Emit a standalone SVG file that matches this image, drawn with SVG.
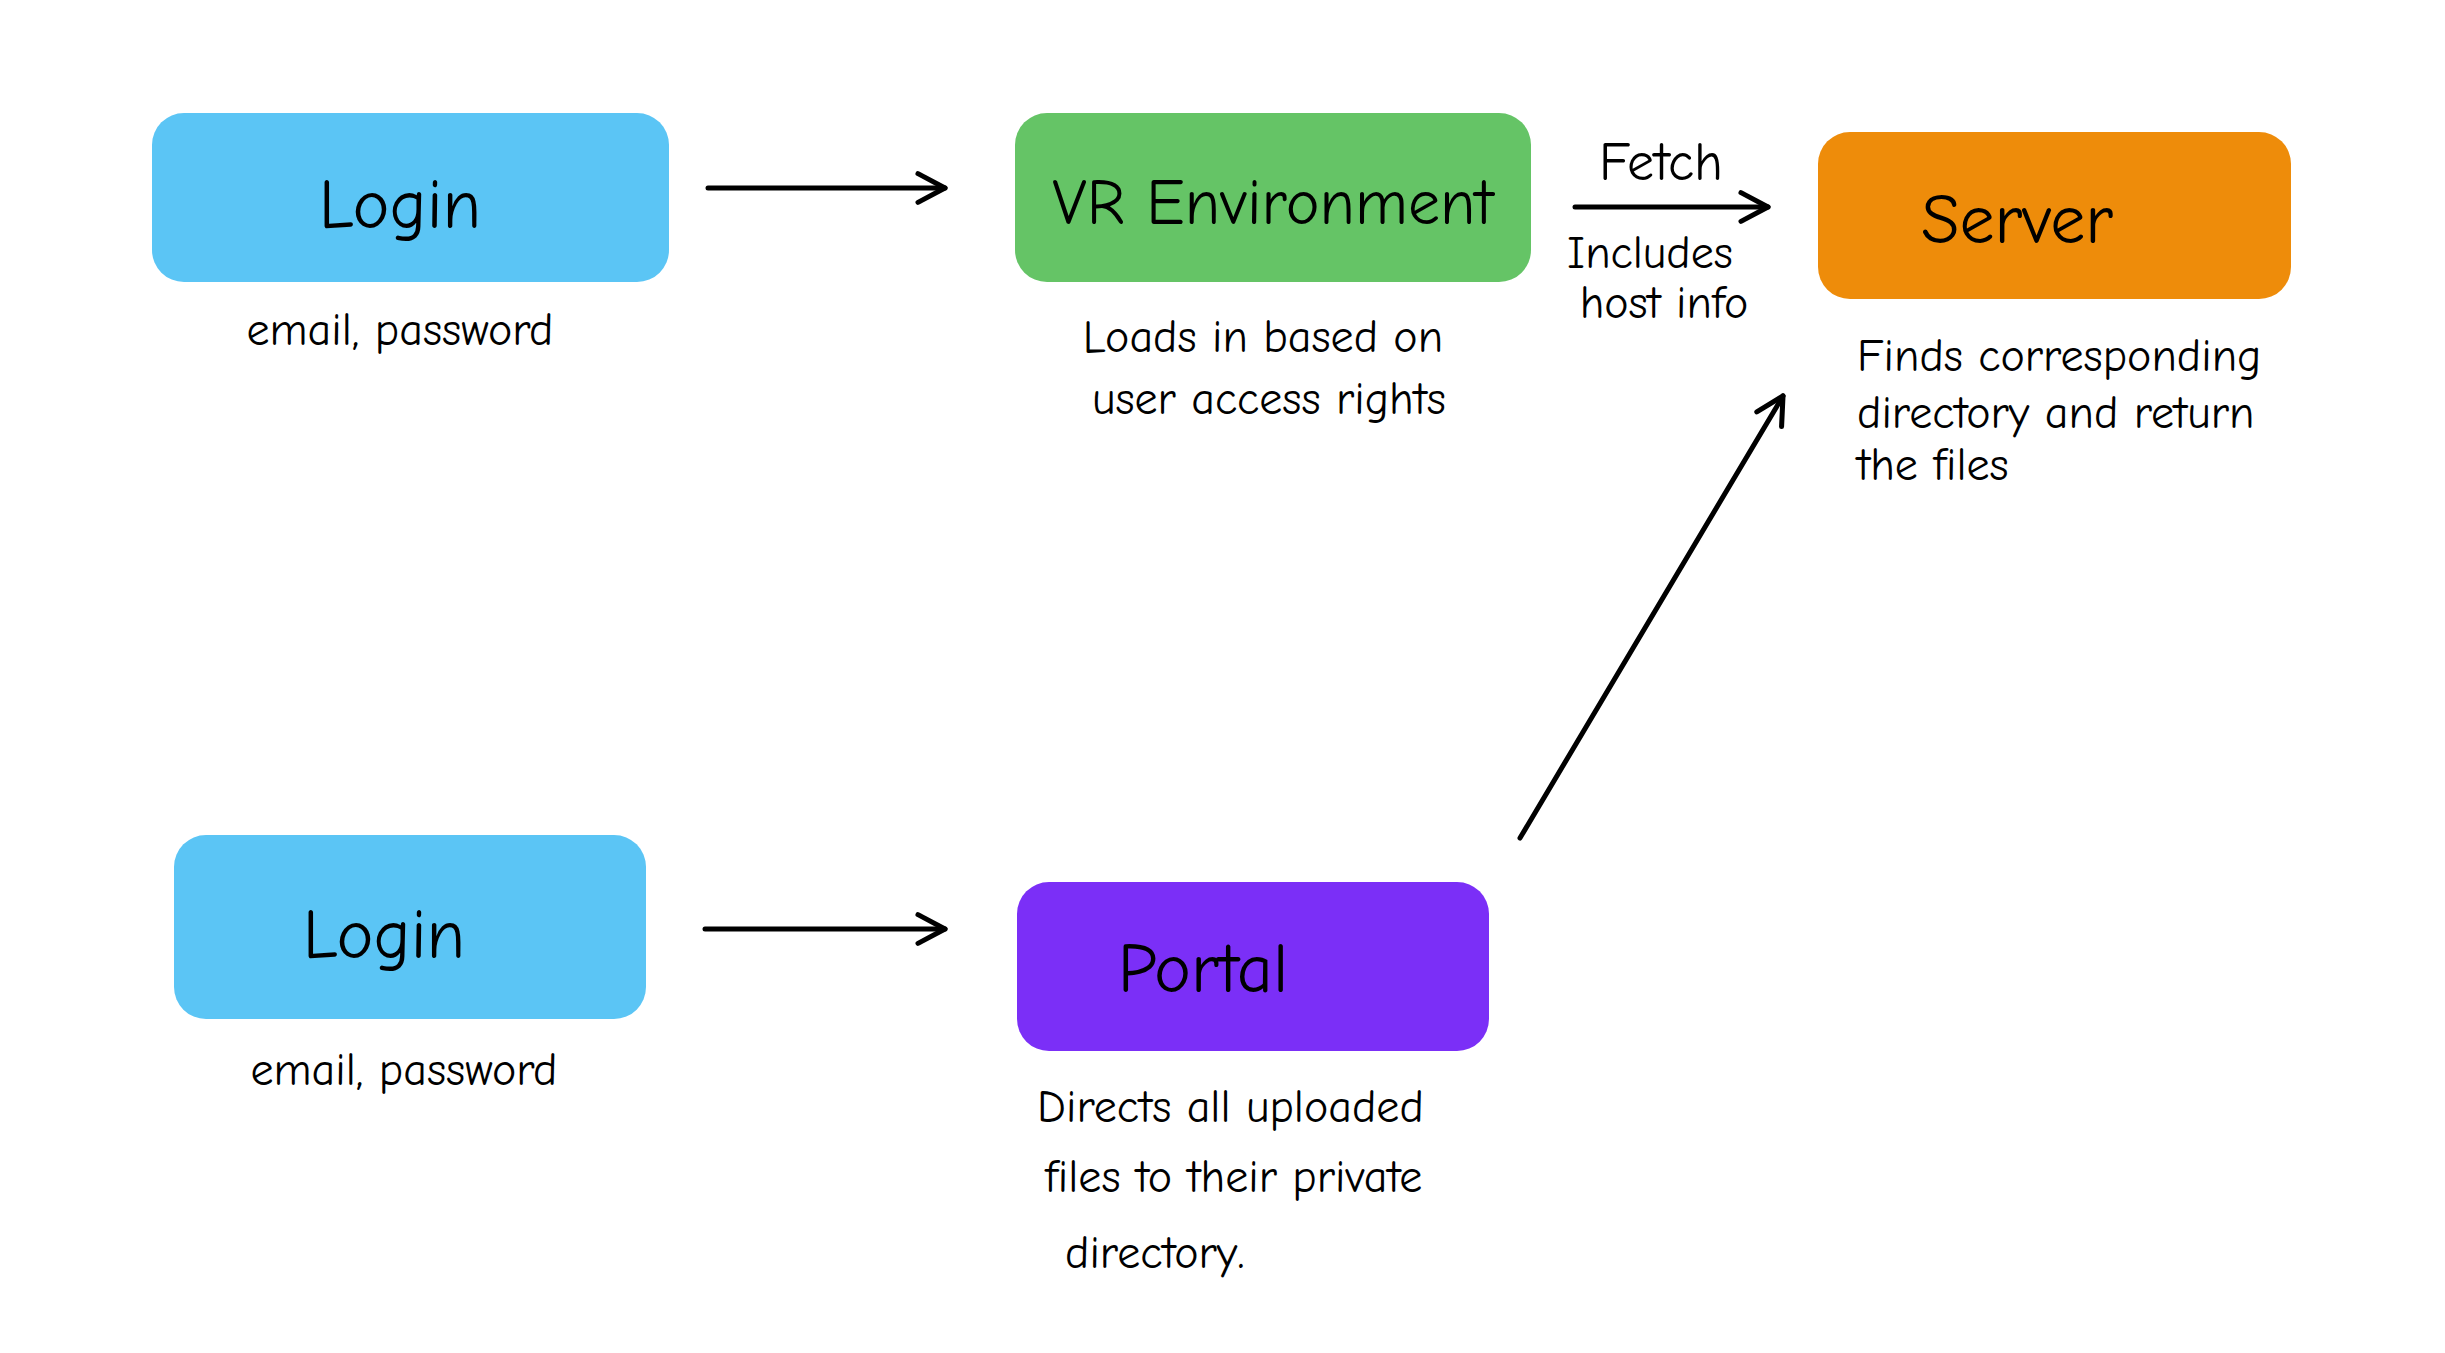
<svg xmlns="http://www.w3.org/2000/svg" width="2445" height="1353" viewBox="0 0 2445 1353">
<style>
text{font-family:"Comic Neue","Liberation Sans",sans-serif;fill:#000}
.t{font-size:70px;text-anchor:middle}
.c{font-size:46px}
.cm{font-size:46px;text-anchor:middle}
.ln{stroke:#000;stroke-width:5;fill:none;stroke-linecap:round}
</style>
<defs><marker id="a" viewBox="0 0 20 20" refX="18" refY="10" markerWidth="36" markerHeight="36" markerUnits="userSpaceOnUse" orient="auto"><path d="M3 2L18 10L3 18" fill="none" stroke="#000" stroke-width="2.8" stroke-linecap="round" stroke-linejoin="round"/></marker></defs>
<rect width="2445" height="1353" fill="#fff"/>
<g id="connectors">
<line class="ln" x1="708" y1="188" x2="945" y2="188" marker-end="url(#a)"/>
<line class="ln" x1="705" y1="929" x2="945" y2="929" marker-end="url(#a)"/>
<line class="ln" x1="1575" y1="207" x2="1768" y2="207" marker-end="url(#a)"/>
<line class="ln" x1="1520" y1="838" x2="1783" y2="396" marker-end="url(#a)"/>
<text class="cm" x="1661" y="180" style="font-size:54px">Fetch</text>
<text class="cm" x="1650" y="268">Includes</text>
<text class="cm" x="1664" y="318">host info</text>
</g>
<g id="login1"><rect x="152" y="113" width="517" height="169" rx="32" fill="#5bc5f5"/><text class="t" x="400" y="228">Login</text><text class="cm" x="400" y="345">email, password</text></g>
<g id="vr"><rect x="1015" y="113" width="516" height="169" rx="32" fill="#65c466"/><text class="t" x="1273" y="224" style="font-size:64px">VR Environment</text><text class="cm" x="1263" y="352">Loads in based on</text><text class="cm" x="1269" y="414">user access rights</text></g>
<g id="server"><rect x="1818" y="132" width="473" height="167" rx="32" fill="#ee8c0a"/><text class="t" x="2017" y="243">Server</text><text class="c" x="1857" y="371">Finds corresponding</text><text class="c" x="1857" y="428">directory and return</text><text class="c" x="1857" y="480">the files</text></g>
<g id="login2"><rect x="174" y="835" width="472" height="184" rx="32" fill="#5bc5f5"/><text class="t" x="384" y="958">Login</text><text class="cm" x="404" y="1085">email, password</text></g>
<g id="portal"><rect x="1017" y="882" width="472" height="169" rx="32" fill="#7b2ff7"/><text class="t" x="1203" y="992">Portal</text><text class="c" x="1037" y="1122">Directs all uploaded</text><text class="c" x="1045" y="1192">files to their private</text><text class="c" x="1065" y="1268">directory.</text></g>
</svg>
